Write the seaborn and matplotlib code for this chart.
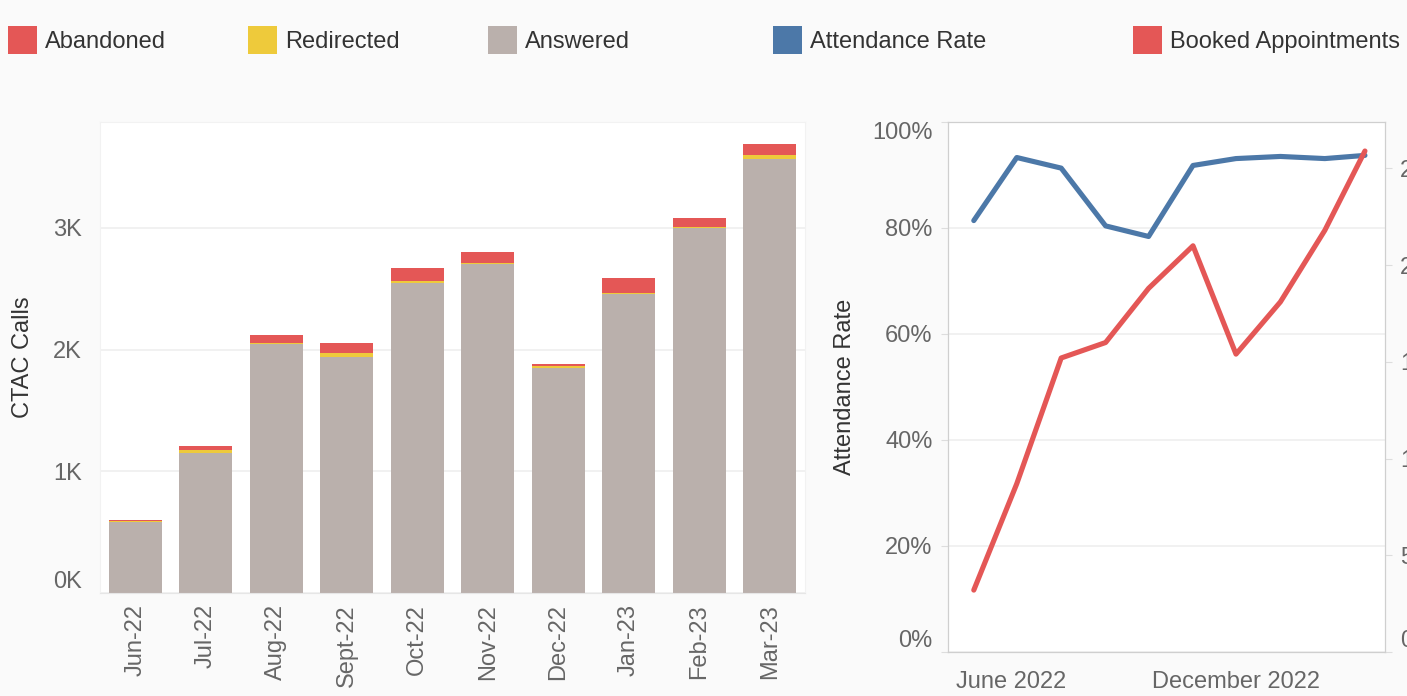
import numpy as np
import pandas as pd
import matplotlib
matplotlib.use("Agg")
from matplotlib import pyplot as plt
from matplotlib.patches import Patch
import matplotlib.ticker as mticker
import matplotlib.dates as mdates
import matplotlib.transforms as mtransforms
import seaborn as sns

# Monthly CTAC call volumes (stacked bars)
months = ['Jun-22', 'Jul-22', 'Aug-22', 'Sept-22', 'Oct-22',
          'Nov-22', 'Dec-22', 'Jan-23', 'Feb-23', 'Mar-23']
answered = [587, 1147, 2046, 1936, 2548, 2705, 1851, 2459, 2997, 3565]
redirected = [2, 25, 9, 32, 16, 6, 13, 6, 9, 33]
abandoned = [10, 35, 68, 90, 104, 89, 15, 120, 74, 93]

# Attendance rate and booked appointments (lines)
line_months = ['2022-06-01', '2022-07-01', '2022-08-01', '2022-09-01', '2022-10-01',
               '2022-11-01', '2022-12-01', '2023-01-01', '2023-02-01', '2023-03-01']
attendance_rate = [0.814, 0.933, 0.913, 0.804, 0.784, 0.918, 0.931, 0.935, 0.931, 0.937]
booked_appts = [32, 87, 152, 160, 188, 210, 154, 181, 218, 259]

#Colours (vega tableau10)
RED = '#e45756'
YELLOW = '#eeca3b'
GREY = '#bab0ac'
BLUE = '#4c78a8'
TICK_COL = '#666666'
TITLE_COL = '#333333'
GRID_COL = '#efefef'

sns.set_style('white')
plt.rcParams['font.family'] = ['Liberation Sans', 'DejaVu Sans']

fig = plt.figure(figsize=(14.07, 6.96), dpi=100, facecolor='#fafafa')

# ---------------- Left: stacked bars ----------------
ax = fig.add_axes([100/1407, 103/696, 705/1407, 471/696])
ax.set_facecolor('white')

calls = pd.DataFrame({'month': months, 'answered': answered,
                      'redirected': redirected, 'abandoned': abandoned})
calls['ans_red'] = calls['answered'] + calls['redirected']
calls['total'] = calls['ans_red'] + calls['abandoned']

# Layer bars from tallest to shortest to fake stacking
for col, c in [('total', RED), ('ans_red', YELLOW), ('answered', GREY)]:
    sns.barplot(data=calls, x='month', y=col, color=c, width=0.75,
                saturation=1, ax=ax, linewidth=0)

ax.set_xlim(-0.5, 9.5)
ax.set_ylim(0, 3870)
ax.set_yticks([0, 1000, 2000, 3000])
ax.yaxis.set_major_formatter(mticker.FuncFormatter(lambda v, p: f'{int(v/1000)}K'))
ax.yaxis.grid(True, color=GRID_COL, lw=1.2)
ax.set_axisbelow(True)
ax.set_xlabel('')
ax.set_ylabel('CTAC Calls', fontsize=17, color=TITLE_COL, labelpad=14)
ax.tick_params(axis='y', labelsize=17, labelcolor=TICK_COL, length=5, color='#e6e6e6', pad=8)
ax.tick_params(axis='x', which='major', labelsize=17, labelcolor=TICK_COL, length=0,
               rotation=90, pad=8)
ax.set_xticks(np.arange(-0.5, 10, 1), minor=True)
ax.tick_params(axis='x', which='minor', length=9, color='#e6e6e6')
for s in ax.spines.values():
    s.set_color('#f2f2f2')
ax.spines['bottom'].set_color('#e6e6e6')
# flush the bottom label like the original
ax.yaxis.get_major_ticks()[0].label1.set_verticalalignment('bottom')

# ---------------- Right: lines with twin axis ----------------
rax = fig.add_axes([948/1407, 44/696, 437/1407, 530/696])
rax.set_facecolor('white')

lines = pd.DataFrame({'month': pd.to_datetime(line_months),
                      'attendance': attendance_rate, 'booked': booked_appts})

sns.lineplot(data=lines, x='month', y='attendance', color=BLUE, lw=3.7, ax=rax)
rax.set_ylim(0, 1)
rax.set_yticks([0, 0.2, 0.4, 0.6, 0.8, 1.0])
rax.yaxis.set_major_formatter(mticker.PercentFormatter(1.0, decimals=0))
rax.yaxis.grid(True, color=GRID_COL, lw=1.2)
rax.set_axisbelow(True)
rax.set_ylabel('Attendance Rate', fontsize=17, color=TITLE_COL, labelpad=12)
rax.set_xlabel('')
rax.tick_params(axis='y', labelsize=17, labelcolor=TICK_COL, length=5, color='#dddddd', pad=6)

rax.set_xlim(pd.Timestamp('2022-05-14'), pd.Timestamp('2023-03-15'))
rax.xaxis.set_major_locator(mdates.MonthLocator())


def month_label(v, pos):
    d = mdates.num2date(v)
    if d.month in (6, 12):
        return d.strftime('%B %Y')
    return ''


rax.xaxis.set_major_formatter(mticker.FuncFormatter(month_label))
rax.tick_params(axis='x', labelsize=17, labelcolor=TICK_COL, length=6, color='#dddddd', pad=8)
for s in rax.spines.values():
    s.set_color('#cfcfcf')

ticks = rax.yaxis.get_major_ticks()
ticks[0].label1.set_verticalalignment('bottom')
ticks[-1].label1.set_verticalalignment('top')

# first date label sits flush with the left edge of the plot
first_lbl = rax.xaxis.get_major_ticks()[0].label1
first_lbl.set_horizontalalignment('left')
first_lbl.set_transform(first_lbl.get_transform() +
                        mtransforms.ScaledTranslation(-0.18, 0, fig.dpi_scale_trans))

rax2 = rax.twinx()
sns.lineplot(data=lines, x='month', y='booked', color=RED, lw=3.7, ax=rax2)
rax2.set_ylim(0, 274)
rax2.set_yticks([0, 50, 100, 150, 200, 250])
rax2.set_ylabel('Booked Appointments', fontsize=17, color=TITLE_COL)
rax2.tick_params(axis='y', labelsize=17, labelcolor=TICK_COL, length=5, color='#dddddd', pad=6)
rax2.grid(False)
for s in rax2.spines.values():
    s.set_color('#cfcfcf')
rax2.yaxis.get_major_ticks()[0].label2.set_verticalalignment('bottom')

# ---------------- Legend ----------------
legend_items = [('Abandoned', RED, 8), ('Redirected', YELLOW, 248), ('Answered', GREY, 488),
                ('Attendance Rate', BLUE, 773), ('Booked Appointments', RED, 1133)]
for label, c, xpix in legend_items:
    fig.legend(handles=[Patch(facecolor=c, edgecolor='none', label=label)],
               loc='center left', bbox_to_anchor=(xpix/1407, 1 - 40/696),
               frameon=False, fontsize=17, handlelength=1.23, handleheight=1.5,
               handletextpad=0.34, borderpad=0, borderaxespad=0, labelcolor='#333333')

fig.savefig('out.png', dpi=100, facecolor=fig.get_facecolor())
